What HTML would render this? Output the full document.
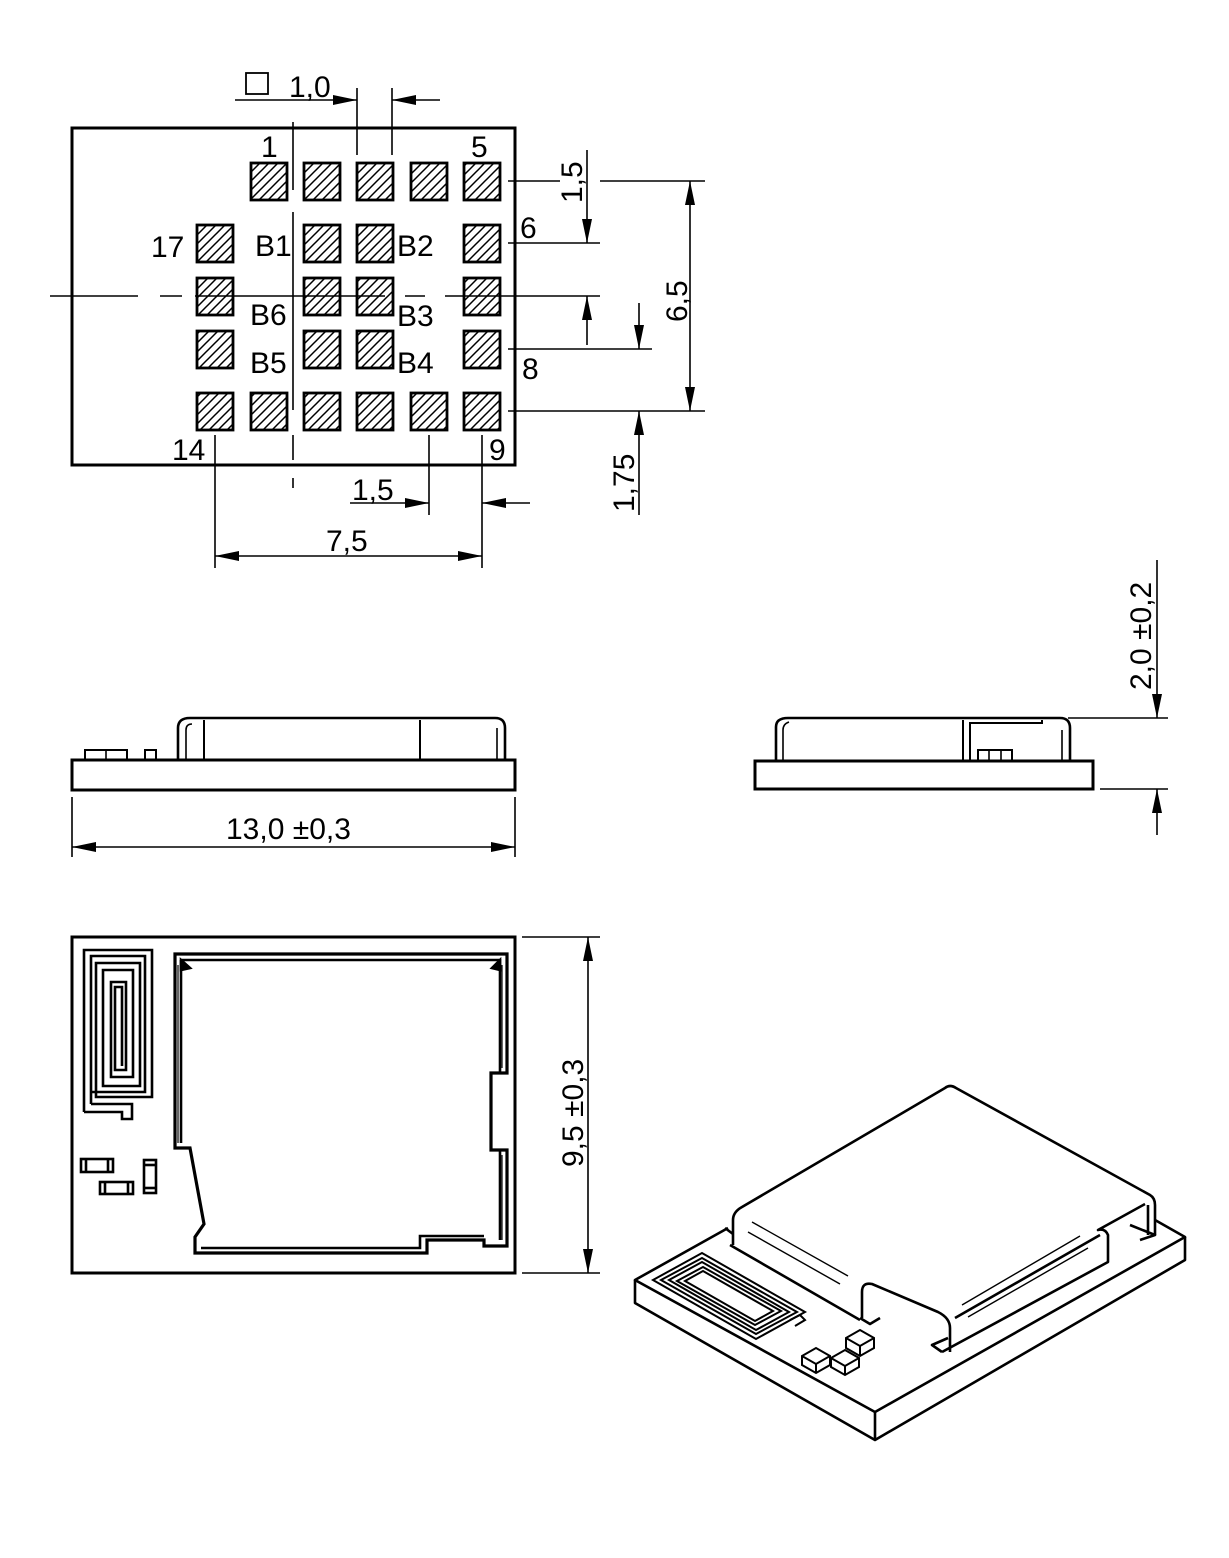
<!DOCTYPE html>
<html><head><meta charset="utf-8"><style>
html,body{margin:0;padding:0;background:#fff}
svg{display:block}
text{font-family:"Liberation Sans",sans-serif;fill:#000}
</style></head><body>
<svg width="1229" height="1558" viewBox="0 0 1229 1558" xmlns="http://www.w3.org/2000/svg">
<defs>
<marker id="a" viewBox="0 0 24 10" refX="24" refY="5" markerWidth="24" markerHeight="10" markerUnits="userSpaceOnUse" orient="auto-start-reverse"><path d="M0,0 L24,5 L0,10z" fill="#000"/></marker>
<pattern id="h" width="9" height="9" patternUnits="userSpaceOnUse"><path d="M-1,10 L10,-1 M-1,1 L1,-1 M8,10 L10,8" stroke="#000" stroke-width="1.5"/></pattern>
</defs>
<g fill="none" stroke="#000" stroke-width="1.6">
<!-- TOP VIEW -->
<rect x="72" y="128" width="443" height="337" stroke-width="3"/>
<g fill="url(#h)" stroke-width="2.8">
<rect x="251" y="163" width="36" height="37"/><rect x="304" y="163" width="36" height="37"/><rect x="357" y="163" width="36" height="37"/><rect x="411" y="163" width="36" height="37"/><rect x="464" y="163" width="36" height="37"/>
<rect x="197" y="225" width="36" height="37"/><rect x="304" y="225" width="36" height="37"/><rect x="357" y="225" width="36" height="37"/><rect x="464" y="225" width="36" height="37"/>
<rect x="197" y="278" width="36" height="37"/><rect x="304" y="278" width="36" height="37"/><rect x="357" y="278" width="36" height="37"/><rect x="464" y="278" width="36" height="37"/>
<rect x="197" y="331" width="36" height="37"/><rect x="304" y="331" width="36" height="37"/><rect x="357" y="331" width="36" height="37"/><rect x="464" y="331" width="36" height="37"/>
<rect x="197" y="393" width="36" height="37"/><rect x="251" y="393" width="36" height="37"/><rect x="304" y="393" width="36" height="37"/><rect x="357" y="393" width="36" height="37"/><rect x="411" y="393" width="36" height="37"/><rect x="464" y="393" width="36" height="37"/>
</g>
<!-- center lines -->
<line x1="293" y1="122" x2="293" y2="190"/><line x1="293" y1="212" x2="293" y2="410"/><line x1="293" y1="435" x2="293" y2="460"/><line x1="293" y1="478" x2="293" y2="488"/>
<line x1="50" y1="296" x2="138" y2="296"/><line x1="160" y1="296" x2="182" y2="296"/><line x1="195" y1="296" x2="385" y2="296"/><line x1="405" y1="296" x2="425" y2="296"/><line x1="445" y1="296" x2="600" y2="296"/>
<!-- 1,0 dim -->
<line x1="357" y1="88" x2="357" y2="155"/><line x1="392" y1="88" x2="392" y2="155"/>
<line x1="235" y1="100" x2="357" y2="100" marker-end="url(#a)"/><line x1="440" y1="100" x2="392" y2="100" marker-end="url(#a)"/>
<rect x="246" y="73" width="22" height="21" stroke-width="1.8"/>
<!-- right dims -->
<line x1="508" y1="181" x2="560" y2="181"/><line x1="600" y1="181" x2="705" y2="181"/>
<line x1="508" y1="243" x2="600" y2="243"/>
<line x1="508" y1="349" x2="652" y2="349"/>
<line x1="508" y1="411" x2="705" y2="411"/>
<line x1="587" y1="150" x2="587" y2="243" marker-end="url(#a)"/><line x1="587" y1="345" x2="587" y2="296" marker-end="url(#a)"/>
<line x1="690" y1="181" x2="690" y2="411" marker-start="url(#a)" marker-end="url(#a)"/>
<line x1="639" y1="303" x2="639" y2="349" marker-end="url(#a)"/><line x1="639" y1="515" x2="639" y2="411" marker-end="url(#a)"/>
<!-- bottom dims -->
<line x1="215" y1="435" x2="215" y2="568"/><line x1="429" y1="435" x2="429" y2="515"/><line x1="482" y1="435" x2="482" y2="568"/>
<line x1="350" y1="503" x2="429" y2="503" marker-end="url(#a)"/><line x1="530" y1="503" x2="482" y2="503" marker-end="url(#a)"/>
<line x1="215" y1="556" x2="482" y2="556" marker-start="url(#a)" marker-end="url(#a)"/>

<!-- SIDE VIEW 1 -->
<rect x="72" y="760" width="443" height="30" stroke-width="3"/>
<path d="M178,760 V728 Q178,718 190,718 H495 Q505,718 505,728 V760" stroke-width="2.6"/>
<path d="M186,760 V730 Q186,724 192,724" stroke-width="1.6"/>
<line x1="497" y1="728" x2="497" y2="760"/>
<line x1="204" y1="720" x2="204" y2="760" stroke-width="2"/><line x1="420" y1="720" x2="420" y2="760" stroke-width="2"/>
<rect x="85" y="750" width="42" height="10" stroke-width="2"/><line x1="106" y1="750" x2="106" y2="760"/>
<rect x="145" y="750" width="11" height="10" stroke-width="2"/>
<line x1="72" y1="797" x2="72" y2="857"/><line x1="515" y1="797" x2="515" y2="857"/>
<line x1="72" y1="847" x2="515" y2="847" marker-start="url(#a)" marker-end="url(#a)"/>

<!-- SIDE VIEW 2 -->
<rect x="755" y="761" width="338" height="28" stroke-width="3"/>
<path d="M776,761 V727 Q776,718 788,718 H1060 Q1070,718 1070,728 V761" stroke-width="2.6"/>
<path d="M783,761 V730 Q783,724 789,722"/>
<line x1="1062" y1="730" x2="1062" y2="761"/>
<path d="M963,761 V720 M970,761 V723 H1042 V720" stroke-width="2"/>
<rect x="978" y="750" width="34" height="11" stroke-width="2"/><line x1="989" y1="750" x2="989" y2="761"/><line x1="1001" y1="750" x2="1001" y2="761"/>
<line x1="1068" y1="718" x2="1168" y2="718"/><line x1="1100" y1="789" x2="1168" y2="789"/>
<line x1="1157" y1="560" x2="1157" y2="718" marker-end="url(#a)"/><line x1="1157" y1="835" x2="1157" y2="789" marker-end="url(#a)"/>

<!-- BOTTOM VIEW -->
<rect x="72" y="937" width="443" height="336" stroke-width="3"/>
<line x1="522" y1="937" x2="600" y2="937"/><line x1="522" y1="1273" x2="600" y2="1273"/>
<line x1="588" y1="937" x2="588" y2="1273" marker-start="url(#a)" marker-end="url(#a)"/>
<g stroke-width="2.6">
<path d="M84,1112 V950 H152 V1097 H96 V963 H140 V1086 H103 V970 H133 V1077 H111 V982 H126 V1070 H115 V987 H122 V1066"/>
<path d="M91,1104 V956 H145 V1092 H91 M91,1104 H132 V1119 H122 V1112 H84"/>
<path d="M175,954 H507 V1073 H491 V1150 H507 V1246 H484 V1240 H427 V1253 H195 V1237 L204,1224 L190,1148 H175 Z" stroke-width="3.2"/>
<path d="M181,960 H500 V1073 M500,1150 V1240 M181,960 V1143 M201,1248 H420 V1236 H484"/>
<path d="M181,960 L190,968 L181,970 Z M500,960 L492,968 L500,970 Z" fill="#000"/>
<rect x="81" y="1159" width="32" height="13"/><line x1="86" y1="1159" x2="86" y2="1172"/><line x1="108" y1="1159" x2="108" y2="1172"/>
<rect x="100" y="1182" width="33" height="12"/><line x1="105" y1="1182" x2="105" y2="1194"/><line x1="128" y1="1182" x2="128" y2="1194"/>
<rect x="144" y="1160" width="12" height="33"/><line x1="144" y1="1165" x2="156" y2="1165"/><line x1="144" y1="1188" x2="156" y2="1188"/>
</g>
<g stroke-width="1.2"><line x1="502" y1="965" x2="502" y2="1068"/><line x1="502" y1="1155" x2="502" y2="1240"/><line x1="178" y1="965" x2="178" y2="1143"/></g>

<!-- ISOMETRIC -->
<g stroke-width="2.6" stroke-linejoin="round">
<path d="M728,1228 L635,1280 L875,1412 L1185,1237 L1155,1220"/>
<path d="M635,1280 V1303 L875,1440 L1185,1260 V1237 M875,1412 V1440"/>
<path d="M733,1245 V1220 Q733,1212 742,1207 L945,1088 Q950,1084 956,1088 L1150,1195 Q1155,1198 1155,1205 V1235"/>
<path d="M730,1245 L860,1320 M862,1318 V1292 Q862,1282 872,1284 L938,1312 Q950,1318 950,1328 V1352 M942,1352 L1108,1262 V1235 Q1105,1228 1098,1230 L1145,1204 M955,1318 L1100,1235 M1148,1205 V1235"/>
<path d="M725,1228 L733,1234 M860,1318 L870,1324 L880,1318 M942,1352 L932,1345 L948,1338 M1140,1240 L1155,1235 L1130,1225"/>
</g>
<g stroke-width="1.4">
<line x1="752" y1="1222" x2="848" y2="1276"/><line x1="748" y1="1232" x2="840" y2="1284"/>
<line x1="962" y1="1305" x2="1080" y2="1236"/><line x1="968" y1="1317" x2="1088" y2="1248"/>
</g>
<g stroke-width="2">
<path d="M653,1280 L702,1253 L805,1312 L756,1339 Z"/>
<path d="M661,1280 L702,1258 L797,1312 L756,1334 Z"/>
<path d="M669,1280 L702,1262 L789,1312 L756,1330 Z"/>
<path d="M677,1281 L703,1267 L781,1311 L755,1325 Z"/>
<path d="M685,1281 L703,1271 L773,1311 L755,1321 Z"/>
<path d="M790,1320 L800,1315 L805,1320 L795,1326"/>
<path d="M846,1338 L860,1330 L874,1338 V1348 L860,1356 L846,1348 Z M846,1338 L860,1346 L874,1338 M860,1346 V1356"/>
<path d="M802,1356 L816,1348 L830,1356 V1365 L816,1373 L802,1365 Z M802,1356 L816,1364 L830,1356 M816,1364 V1373"/>
<path d="M831,1358 L845,1350 L859,1358 V1367 L845,1375 L831,1367 Z M831,1358 L845,1366 L859,1358 M845,1366 V1375"/>
</g>
</g>

<!-- TEXT -->
<g font-size="30">
<text x="289" y="97">1,0</text>
<text x="261" y="157">1</text><text x="471" y="157">5</text>
<text x="151" y="257">17</text><text x="255" y="256">B1</text><text x="397" y="256">B2</text>
<text x="520" y="238">6</text>
<text x="250" y="325">B6</text><text x="397" y="326">B3</text>
<text x="250" y="373">B5</text><text x="397" y="373">B4</text>
<text x="522" y="379">8</text>
<text x="172" y="460">14</text><text x="489" y="460">9</text>
<text x="352" y="500">1,5</text><text x="326" y="551">7,5</text>
<text transform="translate(582,203) rotate(-90)">1,5</text>
<text transform="translate(687,322) rotate(-90)">6,5</text>
<text transform="translate(634,512) rotate(-90)">1,75</text>
<text x="226" y="839">13,0 ±0,3</text>
<text transform="translate(1151,690) rotate(-90)">2,0 ±0,2</text>
<text transform="translate(583,1167) rotate(-90)">9,5 ±0,3</text>
</g>
</svg>
</body></html>
